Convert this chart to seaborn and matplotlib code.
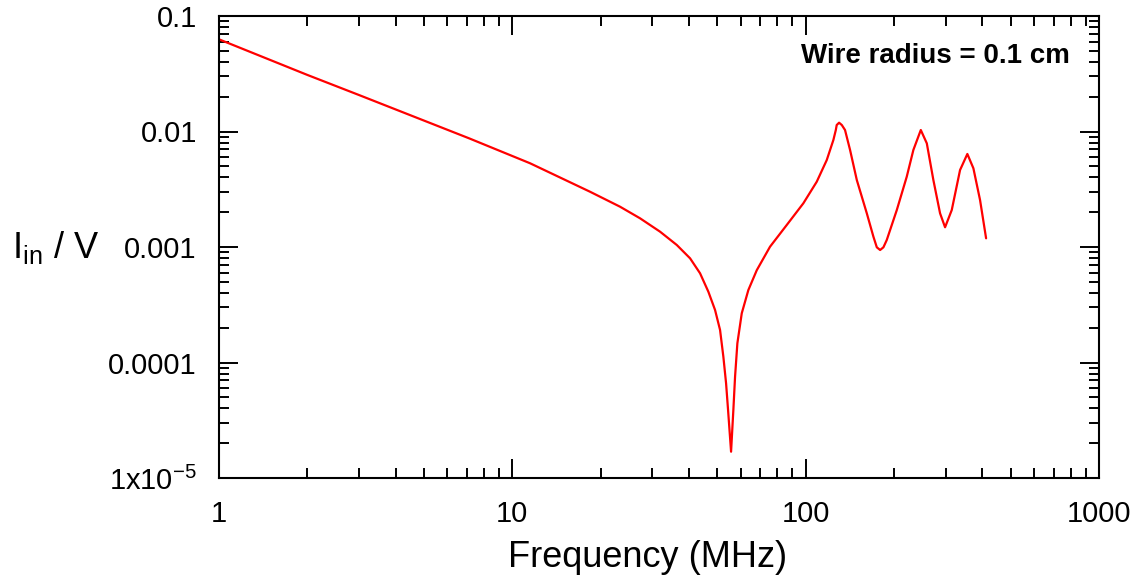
import matplotlib
matplotlib.use("Agg")
import matplotlib.pyplot as plt
import matplotlib.ticker as mticker
import seaborn as sns
import pandas as pd

freq_mhz = [1, 2, 3, 7.12, 11.49, 18.4, 23.29, 27.25, 31.89, 36.36, 40.36,
            43.65, 46.59, 49.10, 51.07, 52.41, 53.54, 54.38, 55.68, 56.69, 57.45,
            58.50, 60.55, 63.77, 68.13, 75.60, 86.2, 98.2, 109.1, 118.0, 124.3,
            126.7, 127.6, 130.0, 132.8, 136.2, 141.7, 149.4, 161.6, 170.2, 174.8,
            179.4, 184.1, 189.0, 204.5, 221.1, 232.9, 246.9, 258.8, 272.5, 287.2,
            298.7, 314.8, 336.0, 355.8, 373.1, 393.1, 412.2]
current = [0.0628, 0.0309, 0.0207, 8.73e-3, 5.31e-3, 3.01e-3, 2.233e-3,
           1.772e-3, 1.357e-3, 1.041e-3, 7.98e-4, 5.92e-4, 4.10e-4, 2.85e-4,
           1.912e-4, 1.122e-4, 6.60e-5, 3.88e-5, 1.689e-5, 3.88e-5, 7.53e-5,
           1.466e-4, 2.667e-4, 4.24e-4, 6.30e-4, 1.006e-3, 1.551e-3, 2.39e-3,
           3.676e-3, 5.66e-3, 8.44e-3, 0.0103, 0.01138, 0.01192, 0.01138, 0.0103,
           6.92e-3, 3.80e-3, 1.957e-3, 1.228e-3, 9.94e-4, 9.42e-4, 9.94e-4,
           1.150e-3, 2.09e-3, 4.06e-3, 6.92e-3, 0.0103, 7.90e-3, 3.80e-3,
           1.957e-3, 1.482e-3, 2.09e-3, 4.64e-3, 6.39e-3, 4.80e-3, 2.55e-3,
           1.189e-3]

x_ticks = [1, 10, 100, 1000]
x_ticklabels = ["1", "10", "100", "1000"]
y_ticks = [1e-5, 1e-4, 1e-3, 1e-2, 1e-1]
y_ticklabels = [r"1x10$^{\mathregular{-5}}$", "0.0001", "0.001", "0.01", "0.1"]

df = pd.DataFrame({"f": freq_mhz, "i": current})

sns.set_theme(style="ticks")
plt.rcParams["font.family"] = ["Liberation Sans", "DejaVu Sans"]
plt.rcParams["mathtext.fontset"] = "custom"
plt.rcParams["mathtext.rm"] = "Liberation Sans"
plt.rcParams["mathtext.it"] = "Liberation Sans:italic"
plt.rcParams["mathtext.bf"] = "Liberation Sans:bold"
for key in ["text.color", "axes.labelcolor", "xtick.color", "ytick.color",
            "axes.edgecolor"]:
    plt.rcParams[key] = "black"

fig = plt.figure(figsize=(11.34, 5.76), dpi=100)
ax = fig.add_axes([219 / 1134, 1 - 478 / 576, 880 / 1134, 462 / 576])

sns.lineplot(data=df, x="f", y="i", ax=ax, color="#ff0000", linewidth=1.6,
             estimator=None, sort=False)

ax.set_xscale("log")
ax.set_yscale("log")
ax.set_xlim(1, 1000)
ax.set_ylim(1e-5, 0.1)

ax.set_xticks(x_ticks)
ax.set_xticklabels(x_ticklabels)
ax.set_yticks(y_ticks)
ax.set_yticklabels(y_ticklabels)
ax.xaxis.set_minor_locator(mticker.LogLocator(base=10, subs=range(2, 10), numticks=20))
ax.yaxis.set_minor_locator(mticker.LogLocator(base=10, subs=range(2, 10), numticks=20))
ax.xaxis.set_minor_formatter(mticker.NullFormatter())
ax.yaxis.set_minor_formatter(mticker.NullFormatter())

ax.tick_params(which="both", direction="in", top=True, right=True, color="black",
               labelcolor="black", width=1.4)
ax.tick_params(which="major", length=14, labelsize=21, pad=16)
ax.tick_params(which="minor", length=7.5)
for sp in ax.spines.values():
    sp.set_linewidth(1.5)
    sp.set_color("black")

ax.set_xlabel("Frequency (MHz)", fontsize=26, color="black")
ax.xaxis.set_label_coords(0.487, -0.135)
ax.set_ylabel(r"$\mathregular{I_{in}}$ / V", fontsize=26, rotation=0, va="center",
              ha="center", color="black")
ax.yaxis.set_label_coords(-0.186, 0.5)

ax.text(0.967, 0.913, "Wire radius = 0.1 cm", transform=ax.transAxes,
        ha="right", va="center", fontsize=20, fontweight="bold", color="black")

fig.savefig("out.png", dpi=100, facecolor="white")
